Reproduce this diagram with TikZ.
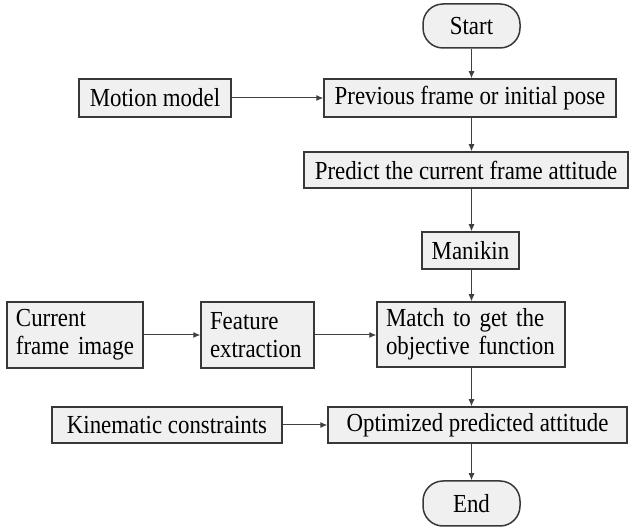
\documentclass[tikz,border=0pt]{standalone}
\usepackage{fontspec}
\setmainfont{Liberation Serif}[FakeStretch=0.88]
\usetikzlibrary{arrows.meta}
\definecolor{boxfill}{HTML}{F0F0F0}
\definecolor{boxline}{HTML}{383838}
\definecolor{arrowline}{HTML}{404040}
\begin{document}
\begin{tikzpicture}[x=1pt,y=-1pt,
  every node/.style={font=\fontsize{26}{28}\selectfont, text=black},
  procbox/.style={draw=boxline, fill=boxfill, line width=1.5pt, inner sep=0pt,
    minimum width=#1, minimum height=37pt},
  procbox/.default=100pt,
  twoline/.style={draw=boxline, fill=boxfill, line width=1.5pt, inner xsep=9pt, inner ysep=0pt,
    text width=#1-18pt, align=left, minimum height=66pt},
  terminal/.style={draw=boxline, fill=boxfill, line width=1.5pt, rounded corners=20pt,
    inner sep=0pt, minimum width=97pt, minimum height=44pt},
  flow/.style={draw=arrowline, line width=1pt, -{Latex[length=7pt,width=6pt]}}
]
\useasboundingbox (0,0) rectangle (630,529);

% main column
\node[terminal] (start) at (471.5,26) {Start};
\node[procbox=292pt, minimum height=38pt] (prev) at (470,98) {Previous frame or initial pose};
\node[procbox=324pt, minimum height=36pt] (predict) at (466,170) {Predict the current frame attitude};
\node[procbox=97pt] (manikin) at (470.5,250.5) {Manikin};
\node[twoline=188pt, minimum height=65pt] (match) at (471,334.5) {Match to get the\\objective function};
\node[procbox=299pt, minimum height=36pt] (opt) at (477.5,425) {Optimized predicted attitude};
\node[terminal, minimum height=45pt] (end) at (471.5,503.5) {End};

% side inputs
\node[procbox=152pt, minimum height=38pt] (motion) at (155,98) {Motion model};
\node[twoline=136pt] (current) at (75,335) {Current\\frame image};
\node[twoline=113pt] (feature) at (257.5,335) {Feature\\extraction};
\node[procbox=230pt, minimum height=36pt] (kin) at (167,425) {Kinematic constraints};

% vertical flow
\draw[flow] (start.south) -- (start.south |- prev.north);
\draw[flow] (start.south |- prev.south) -- (start.south |- predict.north);
\draw[flow] (start.south |- predict.south) -- (start.south |- manikin.north);
\draw[flow] (start.south |- manikin.south) -- (start.south |- match.north);
\draw[flow] (start.south |- match.south) -- (start.south |- opt.north);
\draw[flow] (start.south |- opt.south) -- (end.north);

% horizontal inputs
\draw[flow] (motion.east) -- (motion.east -| prev.west);
\draw[flow] (current.east) -- (current.east -| feature.west);
\draw[flow] (feature.east) -- (feature.east -| match.west);
\draw[flow] (kin.east) -- (kin.east -| opt.west);
\end{tikzpicture}
\end{document}
